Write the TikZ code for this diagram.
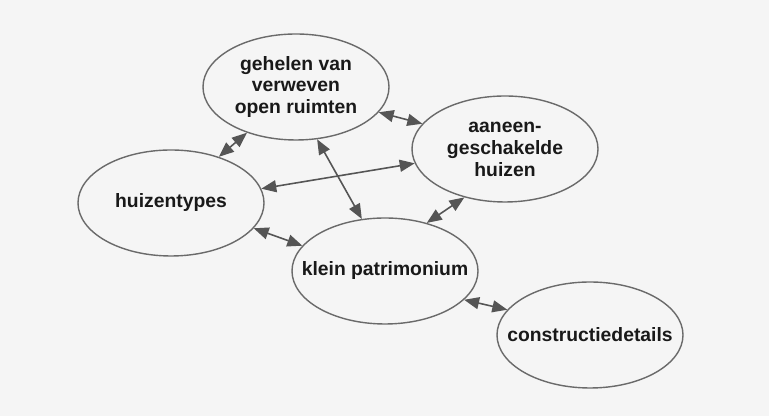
\documentclass[tikz,border=0pt]{standalone}
\usepackage{fontspec}
\setmainfont{Liberation Sans}
\usetikzlibrary{shapes.geometric,arrows.meta}
\definecolor{bggray}{HTML}{F5F5F5}
\definecolor{linegray}{HTML}{6A6A6A}
\definecolor{arrowgray}{HTML}{555555}

\begin{document}
\begin{tikzpicture}[
  topic/.style={ellipse, draw=linegray, line width=0.8pt, minimum width=3.72cm, minimum height=2.12cm, inner sep=0pt, align=center, font=\bfseries\fontsize{11}{12.5}\selectfont, text=black!90},
  link/.style={arrowgray, line width=0.9pt, {Triangle[length=3mm,width=2.4mm]}-{Triangle[length=3mm,width=2.4mm]}}
]
\fill[bggray] (0,0) rectangle (15.38,8.32);
\node[topic] (open) at (5.92,6.58) {gehelen van\\verweven\\open ruimten};
\node[topic] (rows) at (10.10,5.34) {aaneen-\\geschakelde\\huizen};
\node[topic] (types) at (3.42,4.26) {\makebox[0pt]{huizentypes}};
\node[topic] (small) at (7.70,2.90) {\makebox[0pt]{klein patrimonium}};
\node[topic] (detail) at (11.80,1.62) {\makebox[0pt]{constructiedetails}};
\draw[link] (open.223) -- (types.44);
\draw[link] (open.-17) -- (rows.163);
\draw[link] (open.-68) -- (small.114);
\draw[link] (types.9) -- (rows.189);
\draw[link] (rows.230) -- (small.49);
\draw[link] (types.-17) -- (small.163);
\draw[link] (small.-20) -- (detail.163);
\end{tikzpicture}
\end{document}
